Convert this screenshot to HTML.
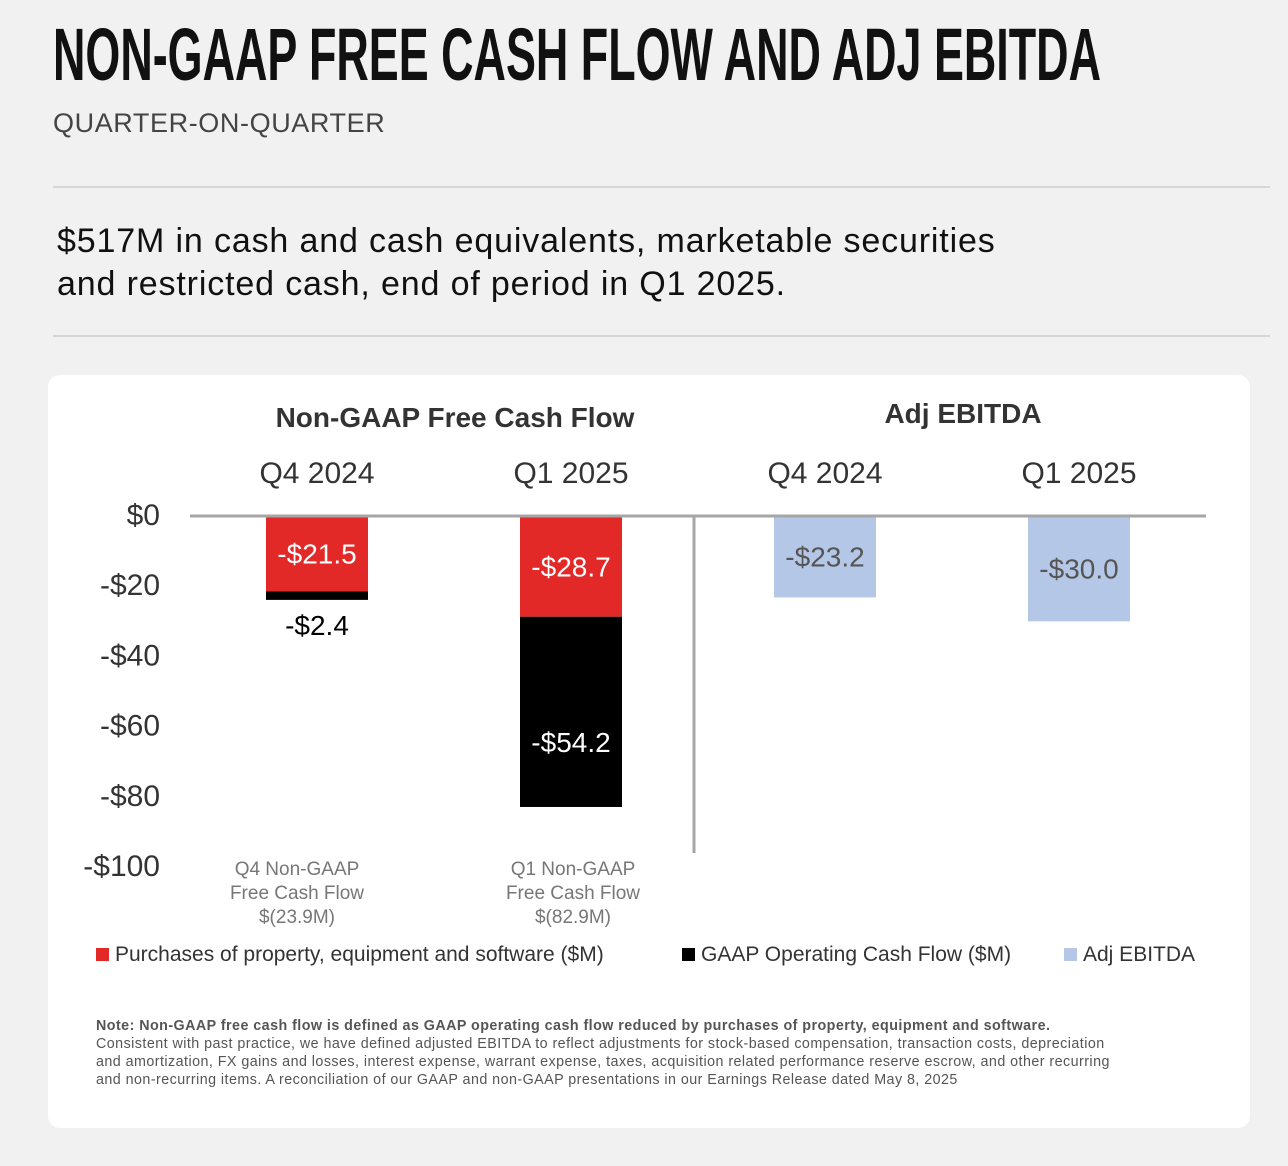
<!DOCTYPE html>
<html><head><meta charset="utf-8"><style>
body{margin:0;width:1288px;height:1166px;background:#f1f1f1;font-family:"Liberation Sans",sans-serif;position:relative;overflow:hidden}
.abs{position:absolute}
</style></head><body>
<svg class="abs" style="left:0;top:0" width="1288" height="100">
<text x="53" y="80" font-family="Liberation Sans Narrow, Liberation Sans, sans-serif" font-weight="bold" font-size="74" textLength="1048" lengthAdjust="spacingAndGlyphs" fill="#111">NON-GAAP FREE CASH FLOW AND ADJ EBITDA</text></svg>
<div class="abs" style="left:53px;top:108px;font-size:27px;color:#444;letter-spacing:0.6px">QUARTER-ON-QUARTER</div>
<div class="abs" style="left:53px;top:186px;width:1217px;height:2px;background:#d6d6d6"></div>
<div class="abs" style="left:57px;top:220px;font-size:34px;line-height:43px;color:#111;letter-spacing:0.85px">$517M in cash and cash equivalents, marketable securities<br>and restricted cash, end of period in Q1 2025.</div>
<div class="abs" style="left:53px;top:335px;width:1217px;height:2px;background:#d6d6d6"></div>
<div class="abs" style="left:48px;top:375px;width:1202px;height:753px;background:#fff;border-radius:12px"></div>
<svg class="abs" style="left:0;top:0" width="1288" height="1166" id="chart"></svg>
<div class="abs" style="left:96px;top:1017px;font-size:14.3px;line-height:18px;color:#555;width:1100px;letter-spacing:0.45px;white-space:nowrap"><b>Note: Non-GAAP free cash flow is defined as GAAP operating cash flow reduced by purchases of property, equipment and software.</b><br>Consistent with past practice, we have defined adjusted EBITDA to reflect adjustments for stock-based compensation, transaction costs, depreciation<br>and amortization, FX gains and losses, interest expense, warrant expense, taxes, acquisition related performance reserve escrow, and other recurring<br>and non-recurring items. A reconciliation of our GAAP and non-GAAP presentations in our Earnings Release dated May 8, 2025</div>
<script>
const yTicks=[0,-20,-40,-60,-80,-100];
const yTickLabels=["$0","-$20","-$40","-$60","-$80","-$100"];
const fcfCats=["Q4 2024","Q1 2025"];
const capexVals=[-21.5,-28.7];
const ocfVals=[-2.4,-54.2];
const fcfTotals=["$(23.9M)","$(82.9M)"];
const fcfPrefix=["Q4 Non-GAAP","Q1 Non-GAAP"];
const ebitdaCats=["Q4 2024","Q1 2025"];
const ebitdaVals=[-23.2,-30.0];
const svg=document.getElementById('chart');const NS='http://www.w3.org/2000/svg';
const y=v=>516-v*3.51;
function mk(t,a,txt){const e=document.createElementNS(NS,t);for(const k in a)e.setAttribute(k,a[k]);if(txt!=null)e.textContent=txt;svg.appendChild(e);return e;}
const fmt=v=>'-$'+Math.abs(v).toFixed(1);
yTicks.forEach((t,i)=>{const e=mk('text',{x:160,y:y(t)+9,'text-anchor':'end','font-size':30,fill:'#333'},yTickLabels[i]);

});
const fcfX=[317,571],ebX=[825,1079],bw=102;
let e=mk('text',{x:455,y:427,'text-anchor':'middle','font-size':28,'font-weight':'bold',fill:'#333'},'Non-GAAP Free Cash Flow');


e=mk('text',{x:963,y:423,'text-anchor':'middle','font-size':28,'font-weight':'bold',fill:'#333'},'Adj EBITDA');


fcfCats.forEach((c,i)=>{const cx=fcfX[i];
let t=mk('text',{x:cx,y:483,'text-anchor':'middle','font-size':30,fill:'#333'},c);


const y1=y(capexVals[i]),y2=y(capexVals[i]+ocfVals[i]);
let r=mk('rect',{x:cx-bw/2,y:y(0),width:bw,height:y1-y(0),fill:'#e32828'});


r=mk('rect',{x:cx-bw/2,y:y1,width:bw,height:y2-y1,fill:'#000'});


t=mk('text',{x:cx,y:(y(0)+y1)/2+10,'text-anchor':'middle','font-size':28,fill:'#fff'},fmt(capexVals[i]));


const inside=(y2-y1)>40;
t=mk('text',{x:cx,y:inside?(y1+y2)/2+40:y2+35,'text-anchor':'middle','font-size':28,fill:inside?'#fff':'#000'},fmt(ocfVals[i]));


[fcfPrefix[i],'Free Cash Flow',fcfTotals[i]].forEach((s,j)=>{t=mk('text',{x:cx-20+(i?22:0),y:875+j*24,'text-anchor':'middle','font-size':19,fill:'#777'},s);

});
});
ebitdaCats.forEach((c,i)=>{const cx=ebX[i];
let t=mk('text',{x:cx,y:483,'text-anchor':'middle','font-size':30,fill:'#333'},c);


const y1=y(ebitdaVals[i]);
let r=mk('rect',{x:cx-bw/2,y:y(0),width:bw,height:y1-y(0),fill:'#b4c7e7'});


t=mk('text',{x:cx,y:(y(0)+y1)/2+10,'text-anchor':'middle','font-size':28,fill:'#555'},fmt(ebitdaVals[i]));

});
let l=mk('line',{x1:190,x2:1206,y1:y(0),y2:y(0),stroke:'#a6a6a6','stroke-width':3});


l=mk('line',{x1:694,x2:694,y1:y(0),y2:853,stroke:'#a6a6a6','stroke-width':3});


const legend=[[96,'#e32828','Purchases of property, equipment and software ($M)'],[682,'#000','GAAP Operating Cash Flow ($M)'],[1064,'#b4c7e7','Adj EBITDA']];
legend.forEach(g=>{const s=mk('rect',{x:g[0],y:948,width:13,height:13,fill:g[1]});


const t=mk('text',{x:g[0]+19,y:961,'font-size':21,fill:'#333'},g[2]);

});
</script>
</body></html>
